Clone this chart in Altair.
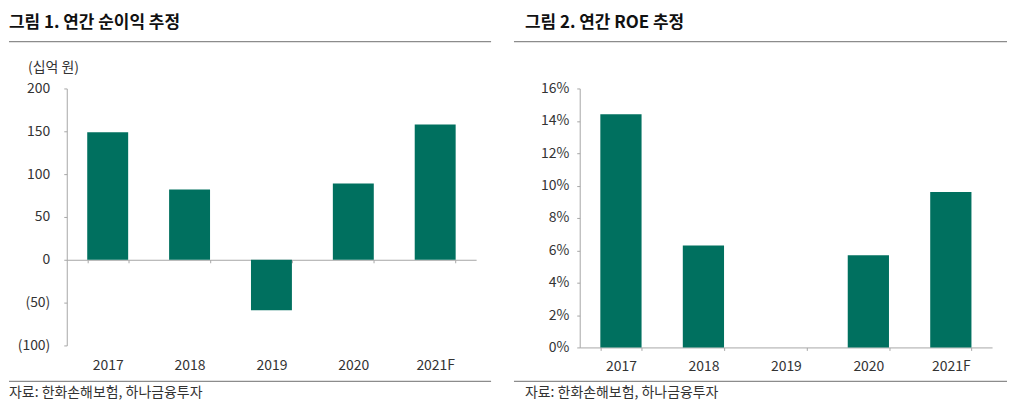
import altair as alt
import pandas as pd

# ---- data ----
years = ["2017", "2018", "2019", "2020", "2021F"]
net_income = [149, 82, -59, 89, 158]      # 십억 원
roe = [14.4, 6.3, 0.0, 5.7, 9.6]          # %

title1 = "그림 1. 연간 순이익 추정"
title2 = "그림 2. 연간 ROE 추정"
unit1 = "(십억 원)"
source = "자료: 한화손해보험, 하나금융투자"

FONT = "Noto Sans CJK KR"
BAR = "#00705F"
AXIS = "#A6A6A6"
TXT = "#333333"

W1, H1 = 411, 258
W2, H2 = 414, 260

df1 = pd.DataFrame({"year": years, "value": net_income})
df2 = pd.DataFrame({"year": years, "value": roe})


def one():
    return alt.Data(values=[{"k": 1}])


def text_layer(txt, x, y, size, bold=False, color=TXT):
    return alt.Chart(one()).mark_text(
        text=txt, align="left", baseline="middle", font=FONT,
        fontSize=size, fontWeight="bold" if bold else "normal", color=color
    ).encode(x=alt.value(x), y=alt.value(y))


def rule_layer(x1, x2, y, color="#8C8C8C", w=1.2):
    return alt.Chart(one()).mark_rule(color=color, strokeWidth=w).encode(
        x=alt.value(x1), x2=alt.value(x2), y=alt.value(y)
    )


xscale = alt.Scale(paddingInner=0.5, paddingOuter=0.25)

# ---- left panel ----
zero_off = -H1 * 100 / 300
bars1 = alt.Chart(df1).mark_bar(color=BAR).encode(
    x=alt.X("year:N", sort=years, scale=xscale, title=None,
            axis=alt.Axis(orient="bottom", offset=zero_off, domainColor=AXIS,
                          tickColor=AXIS, tickSize=3, tickBand="extent",
                          labelPadding=96, labelAngle=0, labelFont=FONT,
                          labelFontSize=14, labelColor=TXT)),
    y=alt.Y("value:Q", scale=alt.Scale(domain=[-100, 200], nice=False), title=None,
            axis=alt.Axis(values=[-100, -50, 0, 50, 100, 150, 200], grid=False,
                          domainColor=AXIS, tickColor=AXIS, tickSize=3,
                          labelPadding=14, labelFont=FONT, labelFontSize=14,
                          labelColor=TXT,
                          labelExpr="datum.value < 0 ? '(' + format(-datum.value, 'd') + ')' : format(datum.value, 'd')")),
)

left = alt.layer(
    bars1,
    text_layer(title1, -58, -66, 17, bold=True, color="#111111"),
    rule_layer(-58, 426, -47),
    text_layer(unit1, -39, -21, 14),
    rule_layer(-58, 426, 294),
    text_layer(source, -58, 306, 14),
).properties(width=W1, height=H1)

# ---- right panel ----
bars2 = alt.Chart(df2).mark_bar(color=BAR).encode(
    x=alt.X("year:N", sort=years, scale=xscale, title=None,
            axis=alt.Axis(orient="bottom", domainColor=AXIS, tickColor=AXIS,
                          tickSize=3, tickBand="extent", labelPadding=9,
                          labelAngle=0, labelFont=FONT, labelFontSize=14,
                          labelColor=TXT)),
    y=alt.Y("value:Q", scale=alt.Scale(domain=[0, 16], nice=False), title=None,
            axis=alt.Axis(values=[0, 2, 4, 6, 8, 10, 12, 14, 16], grid=False,
                          domainColor=AXIS, tickColor=AXIS, tickSize=3,
                          labelPadding=8, labelFont=FONT, labelFontSize=14,
                          labelColor=TXT, labelExpr="datum.value + '%'")),
)

right = alt.layer(
    bars2,
    text_layer(title2, -55, -66, 17, bold=True, color="#111111"),
    rule_layer(-66, 429, -47),
    rule_layer(-66, 429, 294),
    text_layer(source, -55, 306, 14),
).properties(width=W2, height=H2)

chart = alt.hconcat(left, right, spacing=21).properties(
    padding={"left": 0, "top": 5, "right": 0, "bottom": 0}
).configure_view(stroke=None)

chart.save("out.html", embed_options={"renderer": "svg", "actions": False})
